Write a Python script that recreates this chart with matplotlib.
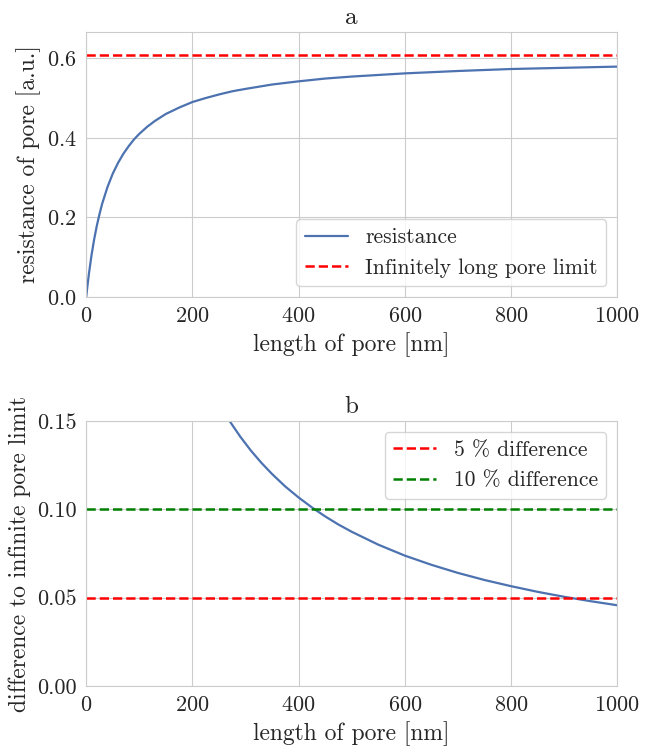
import numpy as np
import matplotlib
matplotlib.use("Agg")
import matplotlib.pyplot as plt
import seaborn as sns

sns.set_style("whitegrid")
plt.rcParams['font.family'] = 'serif'
plt.rcParams['font.serif'] = ['cmr10']
plt.rcParams['mathtext.fontset'] = 'cm'
plt.rcParams['axes.formatter.use_mathtext'] = True

# panel a: resistance vs pore length
length_a = [0, 2, 5, 10, 15, 20, 25, 30, 40, 50, 60, 70, 80, 90, 100, 115, 130,
            150, 175, 200, 225, 250, 275, 300, 350, 400, 450, 500, 600, 700,
            800, 900, 1000]
resistance = [0.0, 0.024, 0.057, 0.105, 0.145, 0.179, 0.208, 0.234, 0.276, 0.310,
              0.337, 0.360, 0.379, 0.396, 0.410, 0.428, 0.443, 0.460, 0.476, 0.490,
              0.500, 0.509, 0.517, 0.523, 0.534, 0.542, 0.549, 0.554, 0.562, 0.568,
              0.573, 0.576, 0.579]
r_limit = 0.607

# panel b: relative difference to the infinite pore limit
length_b = [230, 250, 270, 290, 310, 330, 350, 375, 400, 425, 450, 475, 500,
            550, 600, 650, 700, 750, 800, 850, 900, 950, 1000]
difference = [0.171, 0.160, 0.150, 0.1412, 0.1333, 0.1263, 0.120, 0.1129, 0.1067,
              0.1011, 0.096, 0.0914, 0.0873, 0.080, 0.0738, 0.0686, 0.064, 0.060,
              0.0565, 0.0533, 0.0505, 0.048, 0.0457]
thresholds = [0.05, 0.10]
threshold_labels = ['5 % difference', '10 % difference']
threshold_colors = ['red', 'green']

blue = '#4c72b0'

fig, (ax1, ax2) = plt.subplots(2, 1, figsize=(6.58, 7.53), dpi=100)
fig.subplots_adjust(left=0.131, right=0.938, top=0.9575, bottom=0.089, hspace=0.468)

ax1.plot(length_a, resistance, color=blue, lw=1.6, label='resistance')
ax1.axhline(r_limit, color='red', ls='--', lw=1.8, label='Infinitely long pore limit')
ax1.set_xlim(0, 1000)
ax1.set_ylim(0, 0.666)
ax1.set_yticks([0.0, 0.2, 0.4, 0.6])
ax1.set_title('a', fontsize=18)
ax1.set_xlabel('length of pore [nm]', fontsize=17)
ax1.set_ylabel('resistance of pore [a.u.]', fontsize=17)
ax1.legend(loc='lower right', fontsize=15.5)

ax2.plot(length_b, difference, color=blue, lw=1.6)
for t, lab, c in zip(thresholds, threshold_labels, threshold_colors):
    ax2.axhline(t, color=c, ls='--', lw=1.8, label=lab)
ax2.set_xlim(0, 1000)
ax2.set_ylim(0, 0.15)
ax2.set_yticks([0.0, 0.05, 0.10, 0.15])
ax2.set_yticklabels(['0.00', '0.05', '0.10', '0.15'])
ax2.set_title('b', fontsize=18)
ax2.set_xlabel('length of pore [nm]', fontsize=17)
ax2.set_ylabel('difference to infinite pore limit', fontsize=17)
ax2.legend(loc='upper right', fontsize=15.5)

for ax in (ax1, ax2):
    ax.tick_params(labelsize=16)

plt.savefig('out.png', dpi=100)
